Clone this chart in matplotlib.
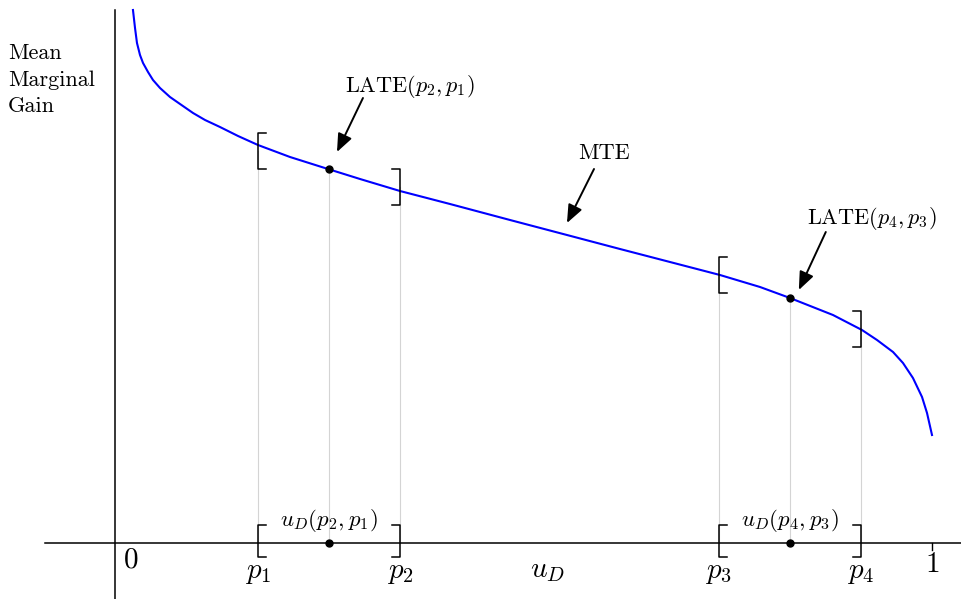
import numpy as np
import matplotlib
matplotlib.use("Agg")
import matplotlib.pyplot as plt

plt.rcParams["mathtext.fontset"] = "cm"

# MTE curve (u_D, mean marginal gain)
u_curve = [0.0220, 0.0245, 0.0269, 0.0306, 0.0343, 0.0404, 0.0465, 0.0551, 0.0673,
           0.0796, 0.0955, 0.1102, 0.1285, 0.1506, 0.1750, 0.2142, 0.2607, 0.2999,
           0.3488, 0.4100, 0.4835, 0.5532, 0.6181, 0.6793, 0.7405, 0.7895, 0.8262,
           0.8788, 0.9143, 0.9327, 0.9523, 0.9645, 0.9767, 0.9878, 0.9939, 1.0]
mte = [5.33, 5.15, 5.00, 4.88, 4.80, 4.71, 4.63, 4.55, 4.46,
       4.39, 4.30, 4.23, 4.16, 4.07, 3.98, 3.86, 3.74, 3.64,
       3.52, 3.39, 3.23, 3.08, 2.94, 2.81, 2.68, 2.56, 2.45,
       2.28, 2.13, 2.03, 1.91, 1.80, 1.65, 1.46, 1.30, 1.08]

# propensity scores and curve heights at them
p_vals = [0.175, 0.349, 0.739, 0.913]
p_mte = [3.92, 3.56, 2.68, 2.14]
p_names = ["$p_1$", "$p_2$", "$p_3$", "$p_4$"]
late_vals = [3.74, 2.45]
late_names = [r"$\mathrm{LATE}(p_2, p_1)$", r"$\mathrm{LATE}(p_4, p_3)$"]
ud_names = ["$u_D(p_2, p_1)$", "$u_D(p_4, p_3)$"]

W, H = 961, 599
fig = plt.figure(figsize=(W / 100, H / 100), dpi=100)
ax = fig.add_axes([0, 0, 1, 1])
sx = 817.0   # px per unit u_D
sy = 100.0   # px per unit gain
ax.set_xlim(-115 / sx, (W - 115) / sx)
ax.set_ylim(-(H - 543) / sy, 543 / sy)
ax.axis("off")

# axes lines
ax.plot([-70 / sx, (W - 115) / sx], [0, 0], color="black", lw=1.1, zorder=3)
ax.plot([0, 0], [-(H - 543) / sy, 533 / sy], color="black", lw=1.1, zorder=3)
ax.plot([1, 1], [0, -7 / sy], color="black", lw=1.0, zorder=3)

# curve
ax.plot(u_curve, mte, color="#0000ff", lw=1.5, zorder=4, solid_joinstyle="round")

mids = [(p_vals[0] + p_vals[1]) / 2, (p_vals[2] + p_vals[3]) / 2]

# gray guides
for x, y in zip(p_vals + mids, p_mte + late_vals):
    ax.plot([x, x], [0, y], color="#d4d4d4", lw=0.8, zorder=1)

serif = 8 / sx
def bracket(x, y0, y1, side):
    d = serif if side == "left" else -serif
    ax.plot([x + d, x, x, x + d], [y1, y1, y0, y0], color="black", lw=1.1, zorder=5)

for i, (x, y) in enumerate(zip(p_vals, p_mte)):
    side = "left" if i % 2 == 0 else "right"
    bracket(x, y - 0.18, y + 0.18, side)
    bracket(x, -0.14, 0.18, side)
    ax.text(x, -0.29, p_names[i], fontsize=21, ha="center", va="center")

# LATE dots
ax.plot(mids, late_vals, "o", color="black", ms=5, zorder=6)
ax.plot(mids, [0, 0], "o", color="black", ms=5, zorder=6)
for m, s in zip(mids, ud_names):
    ax.text(m, 0.22, s, fontsize=16.5, ha="center", va="center")

ax.text(0.0196, -0.16, "$0$", fontsize=21, ha="center", va="center")
ax.text(1.0, -0.21, "$1$", fontsize=21, ha="center", va="center")
ax.text(0.53, -0.27, "$u_D$", fontsize=21, ha="center", va="center")

ax.text(-107 / sx, 4.63, "Mean\nMarginal\nGain", fontsize=16, family="cmr10",
        ha="left", va="center", linespacing=1.45)

arrow = dict(arrowstyle="-|>,head_length=1.1,head_width=0.45", color="black",
             lw=1.4, shrinkA=0, shrinkB=0)
ax.annotate("", xy=(0.2717, 3.91), xytext=(0.3035, 4.45), arrowprops=arrow)
ax.text(0.361, 4.57, late_names[0], fontsize=16, ha="center", va="center")
ax.annotate("", xy=(0.5532, 3.20), xytext=(0.5863, 3.74), arrowprops=arrow)
ax.text(0.5985, 3.90, "MTE", fontsize=16, family="cmr10", ha="center", va="center")
ax.annotate("", xy=(0.837, 2.53), xytext=(0.870, 3.11), arrowprops=arrow)
ax.text(0.926, 3.24, late_names[1], fontsize=16, ha="center", va="center")

fig.savefig("out.png", dpi=100)
